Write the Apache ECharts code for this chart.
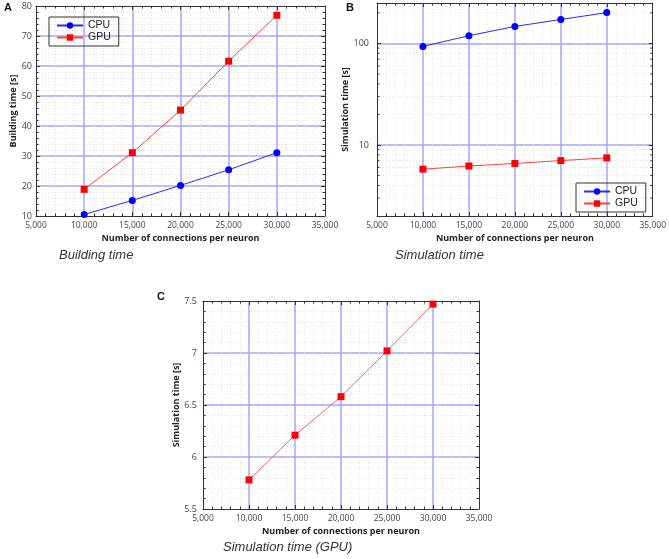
<!DOCTYPE html>
<html>
<head>
<meta charset="utf-8">
<script src="https://cdn.jsdelivr.net/npm/echarts@6/dist/echarts.min.js"></script>
<style>
html,body{margin:0;padding:0;background:#fff;}
#chart{width:669px;height:559px;}
</style>
</head>
<body>
<div id="chart"></div>
<script>
// ---- data ----
const connections = [10000, 15000, 20000, 25000, 30000];
const buildCPU = [10.5, 15.2, 20.2, 25.4, 31.1];
const buildGPU = [18.9, 31.1, 45.3, 61.6, 76.9];
const simCPU = [93.5, 119, 147, 172, 201];
const simGPU = [5.78, 6.21, 6.58, 7.02, 7.47];
const seriesNames = ['CPU', 'GPU'];
const xTitle = 'Number of connections per neuron';
const yTitles = ['Building time [s]', 'Simulation time [s]', 'Simulation time [s]'];
const captions = ['Building time', 'Simulation time', 'Simulation time (GPU)'];
const panelLetters = ['A', 'B', 'C'];
const logMinorValues = [3, 4, 5, 6, 7, 8, 9, 20, 30, 40, 50, 60, 70, 80, 90, 200];

const FRAME = '#333';
const MAJOR = '#a4a4ff';
const MINOR = '#e2e2e2';
const LBL = {fontFamily: 'Open Sans', fontSize: 8.5, color: '#444'};
const NAME = {fontFamily: 'Open Sans', fontSize: 9, fontWeight: 'bold', color: '#222'};
const SPLIT = {show:true, showMinLine:false, showMaxLine:false, lineStyle:{color:MAJOR, width:1.5}};

function fmt(v){ return v.toLocaleString('en-US'); }

function xAxes(gi){
  const base = {type:'value', gridIndex:gi, min:5000, max:35000, interval:5000};
  return [
    Object.assign({}, base, {
      position:'bottom', z:3,
      name: xTitle, nameLocation:'middle', nameGap:18, nameTextStyle: NAME,
      axisLine:{show:true, onZero:false, lineStyle:{color:FRAME, width:1}},
      axisTick:{show:true, inside:true, length:4, lineStyle:{color:FRAME}},
      minorTick:{show:true, splitNumber:5, length:2.5, lineStyle:{color:FRAME}},
      axisLabel:Object.assign({margin:5, formatter: fmt}, LBL),
      splitLine:SPLIT,
      minorSplitLine:{show:true, lineStyle:{color:MINOR, type:[1,2], width:1}}
    }),
    Object.assign({}, base, {
      position:'top', z:3,
      axisLine:{show:true, onZero:false, lineStyle:{color:FRAME, width:1}},
      axisTick:{show:true, inside:true, length:4, lineStyle:{color:FRAME}},
      minorTick:{show:true, splitNumber:5, length:2.5, lineStyle:{color:FRAME}},
      axisLabel:{show:false}, splitLine:{show:false}
    })
  ];
}

function yAxesLin(gi, min, max, interval, name, gap, margin){
  const base = {type:'value', gridIndex:gi, min:min, max:max, interval:interval};
  return [
    Object.assign({}, base, {
      position:'left', z:3,
      name: name, nameLocation:'middle', nameGap:gap, nameTextStyle: NAME,
      axisLine:{show:true, onZero:false, lineStyle:{color:FRAME, width:1}},
      axisTick:{show:true, inside:true, length:4, lineStyle:{color:FRAME}},
      minorTick:{show:true, splitNumber:5, length:2.5, lineStyle:{color:FRAME}},
      axisLabel:Object.assign({margin:margin}, LBL, {fontSize:9}),
      splitLine:SPLIT,
      minorSplitLine:{show:true, lineStyle:{color:MINOR, type:[1,2], width:1}}
    }),
    Object.assign({}, base, {
      position:'right', z:3,
      axisLine:{show:true, onZero:false, lineStyle:{color:FRAME, width:1}},
      axisTick:{show:true, inside:true, length:4, lineStyle:{color:FRAME}},
      minorTick:{show:true, splitNumber:5, length:2.5, lineStyle:{color:FRAME}},
      axisLabel:{show:false}, splitLine:{show:false}
    })
  ];
}

function yAxesLog(gi, min, max, name, gap, margin){
  const base = {type:'log', logBase:10, gridIndex:gi, min:min, max:max};
  return [
    Object.assign({}, base, {
      position:'left', z:3,
      name: name, nameLocation:'middle', nameGap:gap, nameTextStyle: NAME,
      axisLine:{show:true, onZero:false, lineStyle:{color:FRAME, width:1}},
      axisTick:{show:true, inside:true, length:4, lineStyle:{color:FRAME}},
      axisLabel:Object.assign({margin:margin, showMinLabel:false, showMaxLabel:false}, LBL, {fontSize:9}),
      splitLine:SPLIT
    }),
    Object.assign({}, base, {
      position:'right', z:3,
      axisLine:{show:true, onZero:false, lineStyle:{color:FRAME, width:1}},
      axisTick:{show:true, inside:true, length:4, lineStyle:{color:FRAME}},
      axisLabel:{show:false}, splitLine:{show:false}
    })
  ];
}

function pairs(ys){ return connections.map((x,i)=>[x, ys[i]]); }

const cpuStyle = {
  type:'line', symbol:'circle', symbolSize:7,
  itemStyle:{color:'#0000ff'}, lineStyle:{color:'#2a2aff', width:1}, z:5
};
const gpuStyle = {
  type:'line', symbol:'rect', symbolSize:7,
  itemStyle:{color:'#ff0000'}, lineStyle:{color:'#ff4040', width:1}, z:5
};

const chart = echarts.init(document.getElementById('chart'), null, {renderer:'canvas'});

const legendBase = {
  orient:'vertical', data: seriesNames,
  borderColor:FRAME, borderWidth:1, borderRadius:0,
  padding:[3,8,3,7], itemWidth:26, itemHeight:8, itemGap:1,
  textStyle:{fontFamily:'Liberation Sans', fontSize:10.5, color:'#222', lineHeight:11},
  selectedMode:false
};

const option = {
  animation:false,
  backgroundColor:'#fff',
  grid:[
    {left:36, top:6, width:289, height:210},
    {left:377, top:3, width:276, height:213},
    {left:203, top:301, width:276, height:208}
  ],
  xAxis: [].concat(xAxes(0), xAxes(1), xAxes(2)),
  yAxis: [].concat(
    yAxesLin(0, 10, 80, 10, yTitles[0], 18, 4),
    yAxesLog(1, 2, 250, yTitles[1], 20, 8),
    yAxesLin(2, 5.5, 7.5, 0.5, yTitles[2], 19, 6)
  ),
  legend:[
    Object.assign({}, legendBase, {left:49, top:17}),
    Object.assign({}, legendBase, {left:576, top:183})
  ],
  series:[
    Object.assign({}, cpuStyle, {name:seriesNames[0], xAxisIndex:0, yAxisIndex:0, data:pairs(buildCPU)}),
    Object.assign({}, gpuStyle, {name:seriesNames[1], xAxisIndex:0, yAxisIndex:0, data:pairs(buildGPU)}),
    {
      type:'custom', name:'minor', xAxisIndex:2, yAxisIndex:2, silent:true, z:1,
      data: logMinorValues.map(v=>[5000, v]),
      encode:{x:0, y:1},
      renderItem:function(params, api){
        const v = api.value(1);
        const p0 = api.coord([5000, v]);
        const p1 = api.coord([35000, v]);
        return {type:'group', children:[
          {type:'line', shape:{x1:p0[0], y1:p0[1], x2:p1[0], y2:p1[1]}, style:{stroke:MINOR, lineWidth:1, lineDash:[1,2]}},
          {type:'line', shape:{x1:p0[0], y1:p0[1], x2:p0[0]+2.5, y2:p0[1]}, style:{stroke:FRAME, lineWidth:1}},
          {type:'line', shape:{x1:p1[0]-2.5, y1:p1[1], x2:p1[0], y2:p1[1]}, style:{stroke:FRAME, lineWidth:1}}
        ]};
      }
    },
    Object.assign({}, cpuStyle, {name:seriesNames[0], xAxisIndex:2, yAxisIndex:2, data:pairs(simCPU)}),
    Object.assign({}, gpuStyle, {name:seriesNames[1], xAxisIndex:2, yAxisIndex:2, data:pairs(simGPU)}),
    Object.assign({}, gpuStyle, {name:'GPU (C)', xAxisIndex:4, yAxisIndex:4, data:pairs(simGPU), lineStyle:{color:'#ff6060', width:1}})
  ],
  graphic:[
    {type:'text', left:4, top:2, style:{text:panelLetters[0], font:'bold 11px "Liberation Sans"', fill:'#111'}},
    {type:'text', left:346, top:2, style:{text:panelLetters[1], font:'bold 11px "Liberation Sans"', fill:'#111'}},
    {type:'text', left:157, top:291, style:{text:panelLetters[2], font:'bold 11px "Liberation Sans"', fill:'#111'}},
    {type:'text', left:59, top:249, style:{text:captions[0], font:'italic 13px "Liberation Sans"', fill:'#333'}},
    {type:'text', left:395, top:249, style:{text:captions[1], font:'italic 13px "Liberation Sans"', fill:'#333'}},
    {type:'text', left:223, top:541, style:{text:captions[2], font:'italic 13px "Liberation Sans"', fill:'#333'}}
  ]
};
chart.setOption(option);
</script>
</body>
</html>
